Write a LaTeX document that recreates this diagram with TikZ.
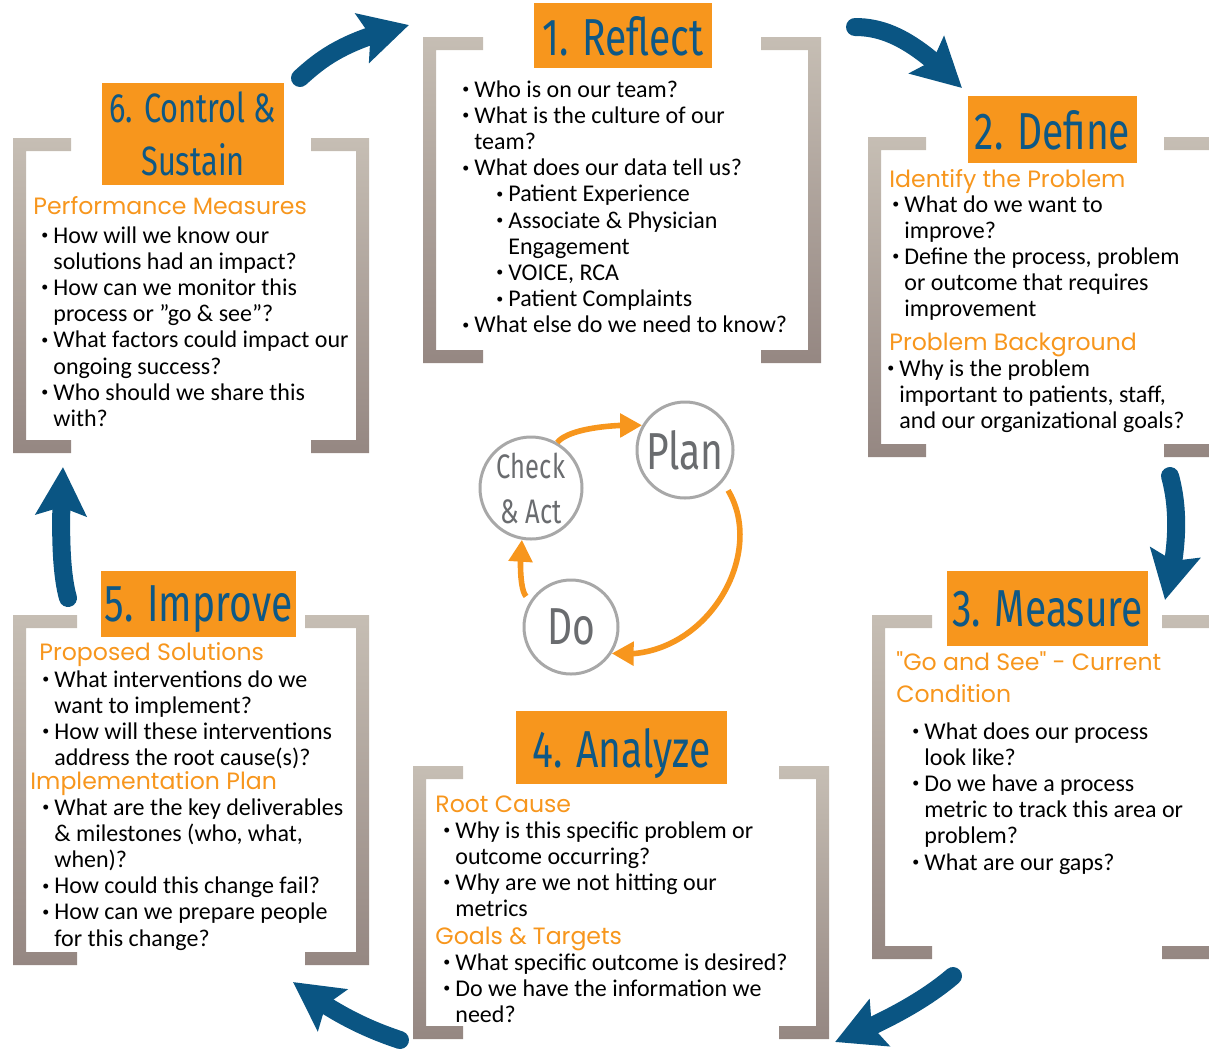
\documentclass[tikz,border=0pt]{standalone}
\usepackage{fontspec}
\setmainfont{Carlito}
\newfontfamily\headfont[FakeStretch=0.75]{Fira Sans}
\newfontfamily\subfont{Poppins}
\usetikzlibrary{positioning}
\usetikzlibrary{arrows.meta,bending}

\definecolor{hdorange}{HTML}{F7961D}
\definecolor{hdblue}{HTML}{0E5885}
\definecolor{arrblue}{HTML}{0A5583}
\definecolor{brtop}{HTML}{C6BEB4}
\definecolor{brbot}{HTML}{958782}
\definecolor{pdcagrey}{HTML}{A8A8A8}
\definecolor{pdcatext}{HTML}{6A6C6F}

\newlength\bulw \setlength\bulw{6pt}
\newcommand\bl{\makebox[\bulw][l]{\raisebox{0.3ex}{\fontsize{7}{7}\selectfont\textbullet}}}
\newcommand\ind{\hspace*{\bulw}}
\newcommand\sbl{\hspace*{17pt}\bl}
\newcommand\sind{\hspace*{17pt}\ind}
% left and right bracket: x0 y0 x1 y1 arm
\newcommand\brackets[5]{%
  \shade[top color=brtop,bottom color=brbot] (#1,#2) -- (#1+#5,#2) -- (#1+#5,#2+13) -- (#1+13,#2+13)
    -- (#1+13,#4-13) -- (#1+#5,#4-13) -- (#1+#5,#4) -- (#1,#4) -- cycle;
  \shade[top color=brtop,bottom color=brbot] (#3,#2) -- (#3-#5,#2) -- (#3-#5,#2+13) -- (#3-13,#2+13)
    -- (#3-13,#4-13) -- (#3-#5,#4-13) -- (#3-#5,#4) -- (#3,#4) -- cycle;}

\tikzset{
  hdbox/.style={fill=hdorange, inner sep=0pt, text depth=0pt, text=hdblue,
    font=\headfont\fontsize{26}{30}\selectfont},
  subhd/.style={anchor=base west, inner sep=0pt, text=hdorange,
    font=\subfont\fontsize{11.8}{16}\selectfont},
  qtxt/.style={anchor=base west, inner sep=0pt, font=\fontsize{12}{13.1}\selectfont},
  pdca/.style={circle, draw=pdcagrey, line width=1.5pt, text=pdcatext, inner sep=0pt, align=center},
  bluearr/.style={draw=arrblue, line width=9pt, line cap=round,
    -{Stealth[length=24pt,width=25pt,inset=4pt,flex]}},
  cycarr/.style={draw=hdorange, line width=2.8pt, -{Triangle[length=11pt,width=11.5pt,flex]}},
}

\begin{document}
\begin{tikzpicture}[x=0.5pt,y=-0.5pt]
\useasboundingbox (0,0) rectangle (1209,1051);
\clip (0,0) rectangle (1209,1051);

% 1. Reflect
\brackets{423}{37}{821}{363}{60}
\node[hdbox, minimum width=89pt, minimum height=32.5pt] (reflect) at (623,35.5) {1. Reflect};
\node[qtxt] (reflectq) at (462,97) {\parbox[t]{220pt}{%
\bl Who is on our team?\\
\bl What is the culture of our\\
\ind team?\\
\bl What does our data tell us?\\
\sbl Patient Experience\\
\sbl Associate \& Physician\\
\sind Engagement\\
\sbl VOICE, RCA\\
\sbl Patient Complaints\\
\bl What else do we need to know?}};

% 2. Define
\brackets{868}{137}{1222}{457}{58}
\node[hdbox, minimum width=84.5pt, minimum height=33.5pt] (define) at (1052.5,129.5) {2. Define};
\node[subhd] (defineh1) at (889,187) {Identify the Problem};
\node[qtxt] (defineq1) at (892,212) {\parbox[t]{200pt}{%
\bl What do we want to\\
\ind improve?\\
\bl Define the process, problem\\
\ind or outcome that requires\\
\ind improvement}};
\node[subhd] (defineh2) at (889,350) {Problem Background};
\node[qtxt] (defineq2) at (887,376) {\parbox[t]{200pt}{%
\bl Why is the problem\\
\ind important to patients, staff,\\
\ind and our organizational goals?}};

% 3. Measure
\brackets{872}{615}{1222}{959}{60}
\node[hdbox, minimum width=100.5pt, minimum height=37.5pt] (measure) at (1047.5,608.5) {3. Measure};
\node[subhd] (measureh) at (896,670) {\parbox[t]{150pt}{"Go and See" - Current\\Condition}};
\node[qtxt] (measureq) at (912,739) {\parbox[t]{200pt}{%
\bl What does our process\\
\ind look like?\\
\bl Do we have a process\\
\ind metric to track this area or\\
\ind problem?\\
\bl What are our gaps?}};

% 4. Analyze
\brackets{413}{766}{829}{1039}{50}
\node[hdbox, minimum width=105.5pt, minimum height=36.5pt] (analyze) at (621.5,747.5) {4. Analyze};
\node[subhd] (analyzeh1) at (435,812) {Root Cause};
\node[qtxt] (analyzeq1) at (443,838) {\parbox[t]{200pt}{%
\bl Why is this specific problem or\\
\ind outcome occurring?\\
\bl Why are we not hitting our\\
\ind metrics}};
\node[subhd] (analyzeh2) at (435,944) {Goals \& Targets};
\node[qtxt] (analyzeq2) at (443,970) {\parbox[t]{200pt}{%
\bl What specific outcome is desired?\\
\bl Do we have the information we\\
\ind need?}};

% 5. Improve
\brackets{13}{615}{369}{965}{64}
\node[hdbox, minimum width=97.5pt, minimum height=33pt] (improve) at (198.5,604) {5. Improve};
\node[subhd] (improveh1) at (39,660) {Proposed Solutions};
\node[qtxt] (improveq1) at (42,687) {\parbox[t]{200pt}{%
\bl What interventions do we\\
\ind want to implement?\\
\bl How will these interventions\\
\ind address the root cause(s)?}};
\node[subhd] (improveh2) at (30,789) {Implementation Plan};
\node[qtxt] (improveq2) at (42,815) {\parbox[t]{200pt}{%
\bl What are the key deliverables\\
\ind \& milestones (who, what,\\
\ind when)?\\
\bl How could this change fail?\\
\bl How can we prepare people\\
\ind for this change?}};

% 6. Control & Sustain
\brackets{13}{138}{369}{453}{58}
\node[hdbox, minimum width=91pt, minimum height=51pt, align=center,
  font=\headfont\fontsize{20.5}{26.5}\selectfont] (control) at (193,134) {6. Control \&\\Sustain};
\node[subhd] (controlh) at (33,214) {Performance Measures};
\node[qtxt] (controlq) at (41,243) {\parbox[t]{200pt}{%
\bl How will we know our\\
\ind solutions had an impact?\\
\bl How can we monitor this\\
\ind process or ''go \& see''?\\
\bl What factors could impact our\\
\ind ongoing success?\\
\bl Who should we share this\\
\ind with?}};

% PDCA
\node[pdca, minimum size=48pt, font=\headfont\fontsize{26}{30}\selectfont] (plan) at (685,450) {Plan};
\node[pdca, minimum size=51pt, font=\headfont\fontsize{17}{22.5}\selectfont] (check) at (531,488) {Check\\\& Act};
\node[pdca, minimum size=47pt, font=\headfont\fontsize{26}{30}\selectfont] (do) at (571,627) {Do};
\draw[cycarr] (check.60) .. controls +(12,-15) and +(-25,-1) .. (plan.150);
\draw[cycarr, shorten <=5pt] (plan.-40) .. controls +(45,75) and +(92,10) .. (do.-33);
\draw[cycarr, shorten <=3pt] (do.147) .. controls +(-12,-12) and +(-2,22) .. (check.-100);

% blue arrows
\coordinate (a6s) at (300,78);   \coordinate (a6e) at (409,25);
\coordinate (a1s) at (855,27);   \coordinate (a1e) at (962,88);
\coordinate (a2s) at (1170,476); \coordinate (a2e) at (1165,600);
\coordinate (a3s) at (953,976);  \coordinate (a3e) at (835,1042);
\coordinate (a4s) at (400,1040); \coordinate (a4e) at (293,982);
\coordinate (a5s) at (68,598);   \coordinate (a5e) at (63,467);
\draw[bluearr] (a6s) .. controls (322,58) and (345,40) .. (a6e);
\draw[bluearr] (a1s) .. controls (885,27) and (915,40) .. (a1e);
\draw[bluearr] (a2s) .. controls (1178,505) and (1180,545) .. (a2e);
\draw[bluearr] (a3s) .. controls (925,1000) and (885,1022) .. (a3e);
\draw[bluearr] (a4s) .. controls (370,1030) and (335,1015) .. (a4e);
\draw[bluearr] (a5s) .. controls (60,570) and (60,520) .. (a5e);
\end{tikzpicture}
\end{document}
